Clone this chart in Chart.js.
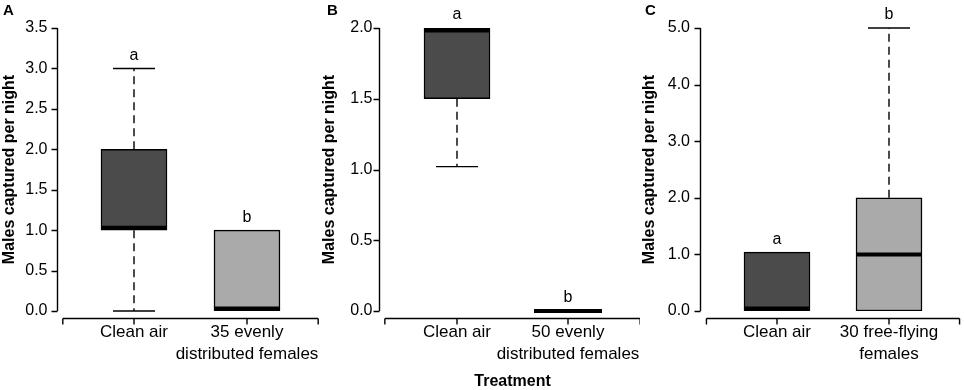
<!DOCTYPE html>
<html>
<head>
<meta charset="utf-8">
<script src="https://cdn.jsdelivr.net/npm/chart.js@4.4.1/dist/chart.umd.min.js"></script>
<style>
  body { margin: 0; background: #fff; }
  #wrap { position: relative; width: 964px; height: 390px; }
  canvas { position: absolute; top: 0; }
</style>
</head>
<body>
<div id="wrap">
  <canvas id="panelA" width="320" height="390" style="left:0px"></canvas>
  <canvas id="panelB" width="320" height="390" style="left:320px"></canvas>
  <canvas id="panelC" width="324" height="390" style="left:640px"></canvas>
</div>
<script>
// Panel A: 35 evenly distributed females
const catsA = ['Clean air', ['35 evenly', 'distributed females']];
const minA = [0, 0];
const q1A = [1, 0];
const medA = [1, 0];
const q3A = [2, 1];
const maxA = [3, 1];
const lettersA = ['a', 'b'];

// Panel B: 50 evenly distributed females
const catsB = ['Clean air', ['50 evenly', 'distributed females']];
const minB = [1.02, 0];
const q1B = [1.5, 0];
const medB = [2, 0];
const q3B = [2, 0];
const maxB = [2, 0];
const lettersB = ['a', 'b'];

// Panel C: 30 free-flying females
const catsC = ['Clean air', ['30 free-flying', 'females']];
const minC = [0, 0];
const q1C = [0, 0];
const medC = [0, 1];
const q3C = [1.04, 2];
const maxC = [1.04, 5];
const lettersC = ['a', 'b'];

const boxColors = ['#4b4b4b', '#aaaaaa'];
const FONT = '"Liberation Sans", Arial, Helvetica, sans-serif';

function makePanel(id, p) {
  // R-style detached axes, whiskers, medians and letters
  const boxExtras = {
    id: 'boxExtras',
    afterDraw(chart) {
      const ctx = chart.ctx;
      const xs = chart.scales.x, ys = chart.scales.y;
      const area = chart.chartArea;
      const bars = chart.getDatasetMeta(0).data;
      const x0 = xs.getPixelForValue(0), x1 = xs.getPixelForValue(1);
      const sp = x1 - x0;
      const axL = x0 - p.axFrac * sp, axR = x1 + p.axFrac * sp;
      const axY = Math.round(area.bottom + 7) + 0.5;
      const yaX = Math.round(axL - 6) + 0.5;

      ctx.save();
      ctx.strokeStyle = '#000';
      ctx.lineWidth = 1.4;

      // x axis
      ctx.beginPath();
      ctx.moveTo(axL, axY);
      ctx.lineTo(axR, axY);
      for (const px of [axL, x0, x1, axR]) {
        ctx.moveTo(px, axY);
        ctx.lineTo(px, axY + 6);
      }
      ctx.stroke();

      // y axis
      ctx.beginPath();
      ctx.moveTo(yaX, Math.round(area.top));
      ctx.lineTo(yaX, Math.round(area.bottom));
      for (const t of ys.ticks) {
        const py = Math.round(ys.getPixelForValue(t.value)) + 0.5;
        ctx.moveTo(yaX - 6, py);
        ctx.lineTo(yaX, py);
      }
      ctx.stroke();

      p.cats.forEach((c, i) => {
        const cx = xs.getPixelForValue(i);
        ctx.lineWidth = 1.4;
        // whiskers
        const ends = [[p.q3[i], p.max[i]], [p.q1[i], p.min[i]]];
        for (const [from, to] of ends) {
          if (from === to) continue;
          ctx.setLineDash([8, 5]);
          ctx.beginPath();
          ctx.moveTo(cx, ys.getPixelForValue(from));
          ctx.lineTo(cx, ys.getPixelForValue(to));
          ctx.stroke();
          ctx.setLineDash([]);
          ctx.beginPath();
          ctx.moveTo(cx - 21, ys.getPixelForValue(to));
          ctx.lineTo(cx + 21, ys.getPixelForValue(to));
          ctx.stroke();
        }
        // median band
        const bar = bars[i];
        const top = Math.min(bar.y, bar.base), bot = Math.max(bar.y, bar.base);
        let ym = ys.getPixelForValue(p.med[i]);
        let l = bar.x - bar.width / 2, r = bar.x + bar.width / 2;
        if (bot - top > 5) {
          ym = Math.min(Math.max(ym, top + 2.5), bot - 2.5);
        } else {
          l -= 1; r += 1;
        }
        ctx.lineWidth = 4;
        ctx.beginPath();
        ctx.moveTo(l, ym);
        ctx.lineTo(r, ym);
        ctx.stroke();
        // significance letters
        ctx.fillStyle = '#000';
        ctx.font = '16px ' + FONT;
        ctx.textAlign = 'center';
        ctx.textBaseline = 'middle';
        ctx.fillText(p.letters[i], cx, ys.getPixelForValue(p.max[i]) - 13);
      });

      ctx.font = 'bold 15px ' + FONT;
      ctx.textAlign = 'left';
      ctx.textBaseline = 'middle';
      ctx.fillText(p.panel, p.panelX, 11);
      ctx.restore();
    }
  };

  return new Chart(document.getElementById(id), {
    type: 'bar',
    data: {
      labels: p.cats,
      datasets: [{
        data: p.q1.map((v, i) => [v, p.q3[i]]),
        backgroundColor: boxColors,
        borderColor: '#000',
        borderWidth: 1.5,
        borderSkipped: false,
        barThickness: 66
      }]
    },
    options: {
      responsive: false,
      animation: false,
      layout: { padding: { top: 28, right: p.rightPad, left: 0, bottom: 0 } },
      plugins: { legend: { display: false }, tooltip: { enabled: false } },
      scales: {
        x: {
          type: 'category',
          offset: true,
          grid: { display: false, drawTicks: false },
          border: { display: false },
          ticks: {
            color: '#000', autoSkip: false, maxRotation: 0, padding: 11,
            font: { family: FONT, size: 17, lineHeight: 1.25 }
          },
          title: {
            display: !!p.xTitle, text: p.xTitle || '', color: '#000', padding: 0,
            font: { family: FONT, size: 16, weight: 'bold', lineHeight: 1 }
          },
          afterFit(s) { s.height = 79; s.paddingLeft = 0; s.paddingRight = 0; }
        },
        y: {
          min: 0, max: p.yMax,
          grid: { display: false, drawTicks: false },
          border: { display: false },
          ticks: {
            stepSize: p.yStep, color: '#000', padding: p.tickPad,
            font: { family: FONT, size: 16 },
            callback: v => Number(v).toFixed(1)
          },
          title: {
            display: true, text: 'Males captured per night', color: '#000', padding: 0,
            font: { family: FONT, size: 16, weight: 'bold', lineHeight: 1.2 }
          },
          afterFit(s) { s.width = p.leftW; s.paddingTop = 0; s.paddingBottom = 0; }
        }
      }
    },
    plugins: [boxExtras]
  });
}

makePanel('panelA', { panel: 'A', panelX: 3, cats: catsA, min: minA, q1: q1A, med: medA, q3: q3A, max: maxA,
  letters: lettersA, yMax: 3.5, yStep: 0.5, leftW: 77.5, rightPad: 16.5, tickPad: 30, axFrac: 0.63 });
makePanel('panelB', { panel: 'B', panelX: 7, cats: catsB, min: minB, q1: q1B, med: medB, q3: q3B, max: maxB,
  letters: lettersB, yMax: 2, yStep: 0.5, leftW: 81.5, rightPad: 16.5, tickPad: 29, axFrac: 0.65,
  xTitle: 'Treatment' });
makePanel('panelC', { panel: 'C', panelX: 5, cats: catsC, min: minC, q1: q1C, med: medC, q3: q3C, max: maxC,
  letters: lettersC, yMax: 5, yStep: 1, leftW: 81, rightPad: 19, tickPad: 31, axFrac: 0.63 });
</script>
</body>
</html>
